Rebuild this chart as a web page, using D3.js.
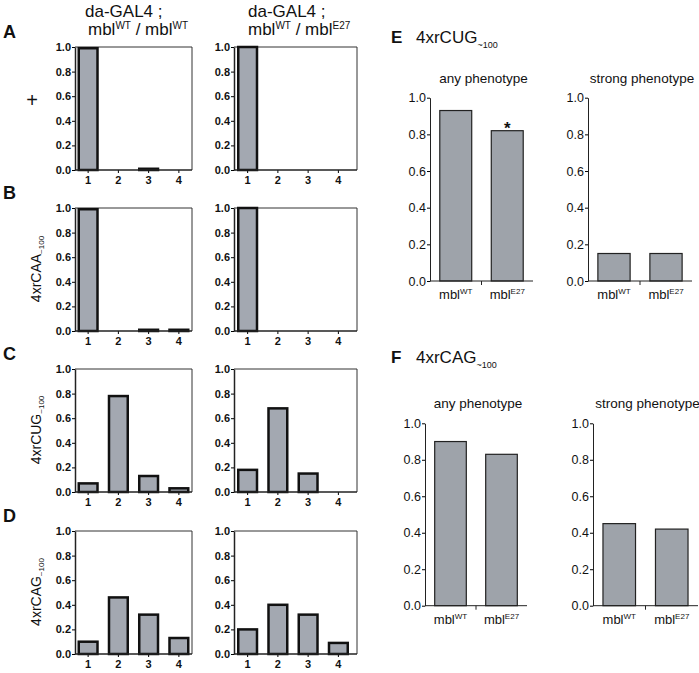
<!DOCTYPE html>
<html>
<head>
<meta charset="utf-8">
<script src="https://cdn.jsdelivr.net/npm/d3@7"></script>
<style>
  body { margin: 0; background: #fff; }
  text { font-family: "Liberation Sans", Arial, sans-serif; fill: #111; }
</style>
</head>
<body>
<svg id="fig" width="699" height="673"></svg>
<script>
// phenotype classes 1-4, fraction of flies
var classes = ["1", "2", "3", "4"];
var yTicks = [0, 0.2, 0.4, 0.6, 0.8, 1.0];

var plusWT  = [0.99, 0, 0.01, 0];
var plusE27 = [1.0, 0, 0, 0];
var caaWT   = [0.99, 0, 0.01, 0.01];
var caaE27  = [1.0, 0, 0, 0];
var cugWT   = [0.07, 0.78, 0.13, 0.03];
var cugE27  = [0.18, 0.68, 0.15, 0];
var cagWT   = [0.10, 0.46, 0.32, 0.13];
var cagE27  = [0.20, 0.40, 0.32, 0.09];

// E / F: any vs strong phenotype
var genotypes = ["WT", "E27"];
var cugAny    = [0.93, 0.82];
var cugStrong = [0.15, 0.15];
var cagAny    = [0.90, 0.83];
var cagStrong = [0.45, 0.42];

var svg = d3.select("#fig");

// write text with sub/superscript parts: [string, shift px, size px]
function rich(text, parts) {
	var shift = 0;
	parts.forEach(function(p) {
		var target = p[1] || 0;
		text.append("tspan")
			.attr("dy", target - shift)
			.attr("font-size", p[2] || null)
			.text(p[0]);
		shift = target;
	});
	return text;
}

// ---- column headers
var headers = [
	{x1: 85, x2: 88, sup2: "WT"},
	{x1: 248, x2: 248, sup2: "E27"}
];
headers.forEach(function(h) {
	svg.append("text").attr("x", h.x1).attr("y", 17).attr("font-size", 17).text("da-GAL4 ;");
	rich(svg.append("text").attr("x", h.x2).attr("y", 35).attr("font-size", 17),
		[["mbl"], ["WT", -6, 10], [" / mbl"], [h.sup2, -6, 10]]);
});

// ---- panels A-D
var distRows = [
	{letter: "A", label: "+",      wt: plusWT, e27: plusE27},
	{letter: "B", label: "4xrCAA", wt: caaWT,  e27: caaE27},
	{letter: "C", label: "4xrCUG", wt: cugWT,  e27: cugE27},
	{letter: "D", label: "4xrCAG", wt: cagWT,  e27: cagE27}
];
var rowTop = [47, 208, 369, 531];
var plotH = 123;
var cols = [
	{axis: 75, right: 192, range: [73, 194]},
	{axis: 234, right: 357, range: [232.5, 353.5]}
];

function distPanel(values, col, top) {
	var g = svg.append("g");
	var x = d3.scaleBand().domain(classes).range(col.range).paddingInner(0.38).paddingOuter(0.19);
	var y = d3.scaleLinear().domain([0, 1]).range([top + plotH, top]);

	// frame top + right
	g.append("path")
		.attr("d", "M" + col.axis + "," + y(1) + "H" + col.right + "V" + y(0))
		.attr("fill", "none").attr("stroke", "#333").attr("stroke-width", 1);

	g.selectAll("rect.bar")
		.data(values.map(function(v, i) { return {c: classes[i], v: v}; }).filter(function(d) { return d.v > 0; }))
		.enter().append("rect")
			.attr("class", "bar")
			.attr("x", function(d) { return x(d.c); })
			.attr("width", x.bandwidth())
			.attr("y", function(d) { return y(d.v); })
			.attr("height", function(d) { return y(0) - y(d.v); })
			.attr("fill", "#a3a8b1")
			.attr("stroke", "#111")
			.attr("stroke-width", 2.5);

	var ya = g.append("g").attr("transform", "translate(" + col.axis + ",0)")
		.call(d3.axisLeft(y).tickValues(yTicks).tickSize(3).tickSizeOuter(0).tickPadding(1).tickFormat(d3.format(".1f")));
	ya.select(".domain").attr("stroke", "#222").attr("stroke-width", 1.5);
	ya.selectAll("text").attr("font-size", 11).attr("font-weight", "bold").attr("font-family", null);

	var xa = g.append("g").attr("transform", "translate(0," + y(0) + ")")
		.call(d3.axisBottom(x).tickSize(3).tickSizeOuter(0).tickPadding(3));
	xa.select(".domain").remove();
	xa.selectAll("text").attr("font-size", 11).attr("font-weight", "bold").attr("font-family", null);
	g.append("line")
		.attr("x1", col.axis).attr("x2", col.right)
		.attr("y1", y(0)).attr("y2", y(0))
		.attr("stroke", "#222").attr("stroke-width", 1.5);
}

distRows.forEach(function(r, i) {
	var top = rowTop[i];
	svg.append("text").attr("x", 3).attr("y", top - 9)
		.attr("font-size", 18).attr("font-weight", "bold").text(r.letter);
	if (r.label === "+") {
		svg.append("text").attr("x", 32).attr("y", top + 60).attr("text-anchor", "middle")
			.attr("font-size", 20).text("+");
	} else {
		rich(svg.append("text")
			.attr("transform", "translate(41," + (top + 61) + ") rotate(-90)")
			.attr("text-anchor", "middle").attr("font-size", 14),
			[[r.label], ["~100", 3, 8]]);
	}
	distPanel(r.wt, cols[0], top);
	distPanel(r.e27, cols[1], top);
});

// ---- panels E, F
var sidePanels = [
	{letter: "E", name: "4xrCUG", titleY: 43, top: 97.7, bottom: 281,
		plots: [
			{title: "any phenotype", values: cugAny, range: [430, 533], star: 1},
			{title: "strong phenotype", values: cugStrong, range: [588, 692]}
		]},
	{letter: "F", name: "4xrCAG", titleY: 363, top: 423.3, bottom: 605.7,
		plots: [
			{title: "any phenotype", values: cagAny, range: [425, 527]},
			{title: "strong phenotype", values: cagStrong, range: [593, 698]}
		]}
];

sidePanels.forEach(function(p) {
	svg.append("text").attr("x", 391).attr("y", p.titleY)
		.attr("font-size", 17).attr("font-weight", "bold").text(p.letter);
	rich(svg.append("text").attr("x", 416).attr("y", p.titleY).attr("font-size", 17),
		[[p.name], ["~100", 5, 9]]);

	var y = d3.scaleLinear().domain([0, 1]).range([p.bottom, p.top]);
	p.plots.forEach(function(pl) {
		var g = svg.append("g");
		var x = d3.scaleBand().domain(genotypes).range(pl.range).paddingInner(0.38).paddingOuter(0.19);
		var mid = (pl.range[0] + pl.range[1]) / 2;

		g.append("text").attr("x", mid + 2).attr("y", p.top - 15)
			.attr("text-anchor", "middle").attr("font-size", 13.5).text(pl.title);

		g.selectAll("rect")
			.data(pl.values.map(function(v, i) { return {c: genotypes[i], v: v}; }))
			.enter().append("rect")
				.attr("x", function(d) { return x(d.c); })
				.attr("width", x.bandwidth())
				.attr("y", function(d) { return y(d.v); })
				.attr("height", function(d) { return y(0) - y(d.v); })
				.attr("fill", "#9ea3aa")
				.attr("stroke", "#222")
				.attr("stroke-width", 1.2);

		if (pl.star !== undefined) {
			g.append("text")
				.attr("x", x(genotypes[pl.star]) + x.bandwidth() / 2)
				.attr("y", y(pl.values[pl.star]) + 3)
				.attr("text-anchor", "middle").attr("font-size", 17).attr("font-weight", "bold")
				.text("*");
		}

		var ya = g.append("g").attr("transform", "translate(" + pl.range[0] + ",0)")
			.call(d3.axisLeft(y).tickValues(yTicks).tickSize(3).tickSizeOuter(0).tickPadding(1).tickFormat(d3.format(".1f")));
		ya.select(".domain").attr("stroke", "#222");
		ya.selectAll("text").attr("font-size", 12.5).attr("font-family", null);

		g.append("line")
			.attr("x1", pl.range[0]).attr("x2", pl.range[1])
			.attr("y1", y(0)).attr("y2", y(0))
			.attr("stroke", "#222");
		g.append("line")
			.attr("x1", mid).attr("x2", mid)
			.attr("y1", y(0)).attr("y2", y(0) + 4)
			.attr("stroke", "#222");

		genotypes.forEach(function(gt) {
			rich(g.append("text")
				.attr("x", x(gt) + x.bandwidth() / 2)
				.attr("y", y(0) + 18)
				.attr("text-anchor", "middle").attr("font-size", 13),
				[["mbl"], [gt, -5, 8]]);
		});
	});
});
</script>
</body>
</html>
